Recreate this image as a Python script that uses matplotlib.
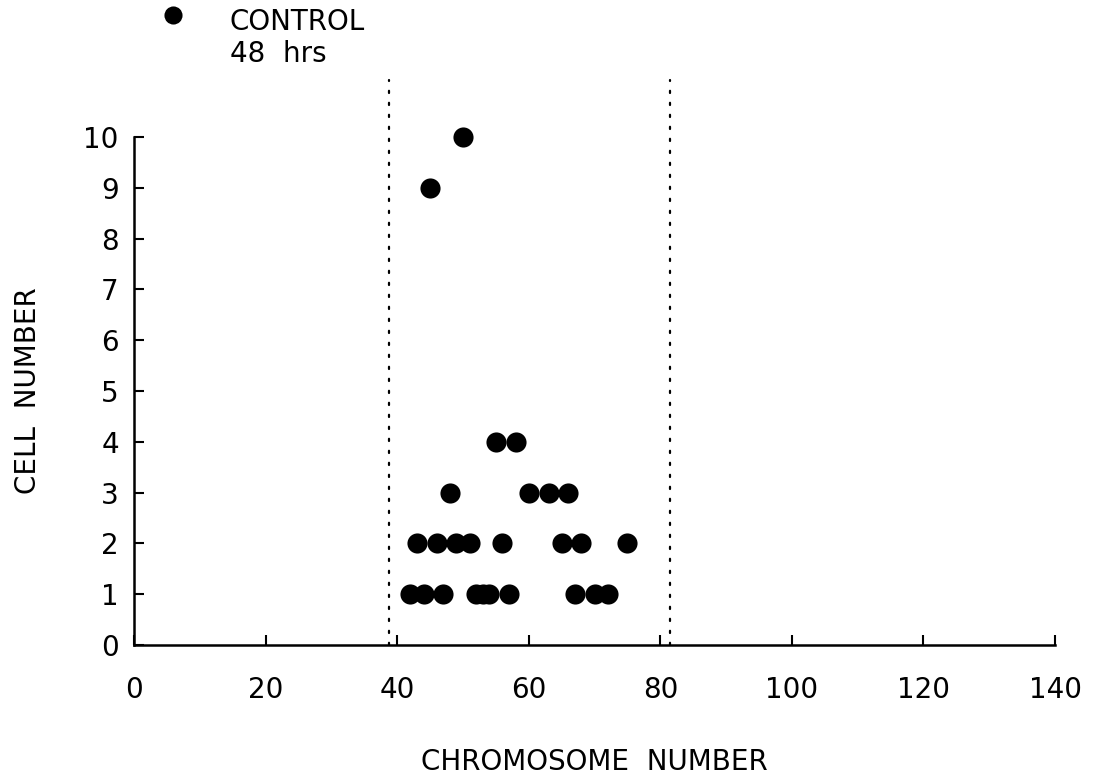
import matplotlib
matplotlib.use("Agg")
import matplotlib.pyplot as plt

# chromosome counts per cell, grouped by how many cells share the count
chrom_1 = [42, 44, 47, 52, 53, 54, 57, 67, 70, 72]
chrom_2 = [43, 46, 49, 51, 56, 65, 68, 75]
chrom_3 = [48, 60, 63, 66]
chrom_4 = [55, 58]
chrom_9 = [45]
chrom_10 = [50]

# limits of the modal range
range_lo = 38.75
range_hi = 81.5

xticks = [0, 20, 40, 60, 80, 100, 120, 140]
yticks = list(range(0, 11))

plt.rcParams['font.family'] = ['DejaVu Sans']

fig = plt.figure(figsize=(10.99, 7.78), dpi=100)
ax = fig.add_axes([0.122, 0.171, 0.838, 0.653])

groups = [(chrom_1, 1), (chrom_2, 2), (chrom_3, 3), (chrom_4, 4), (chrom_9, 9), (chrom_10, 10)]
for xs, n in groups:
    ax.scatter(xs, [n] * len(xs), s=210, color='black', zorder=3, clip_on=False, linewidths=0)

for xv in (range_lo, range_hi):
    ax.plot([xv, xv], [0, 11.12], color='black', lw=1.6,
            linestyle=(0, (1, 4.4)), dash_capstyle='round', clip_on=False)

ax.set_xlim(0, 140)
ax.set_ylim(0, 10)
ax.set_xticks(xticks)
ax.set_yticks(yticks)
ax.tick_params(direction='in', length=7, width=1.5, labelsize=20)
ax.tick_params(axis='x', pad=22)
ax.tick_params(axis='y', pad=11)

for side in ('top', 'right'):
    ax.spines[side].set_visible(False)
for side in ('left', 'bottom'):
    ax.spines[side].set_linewidth(1.8)

ax.set_xlabel("CHROMOSOME  NUMBER", fontsize=20, labelpad=32)
ax.set_ylabel("CELL  NUMBER", fontsize=20, labelpad=30)

# key in the upper left
ax.scatter([0.1575], [0.981], s=170, color='black', transform=fig.transFigure,
           clip_on=False, linewidths=0)
fig.text(0.209, 0.972, "CONTROL", fontsize=20, ha='left', va='center')
fig.text(0.209, 0.930, "48  hrs", fontsize=20, ha='left', va='center')

fig.savefig("out.png", dpi=100)
